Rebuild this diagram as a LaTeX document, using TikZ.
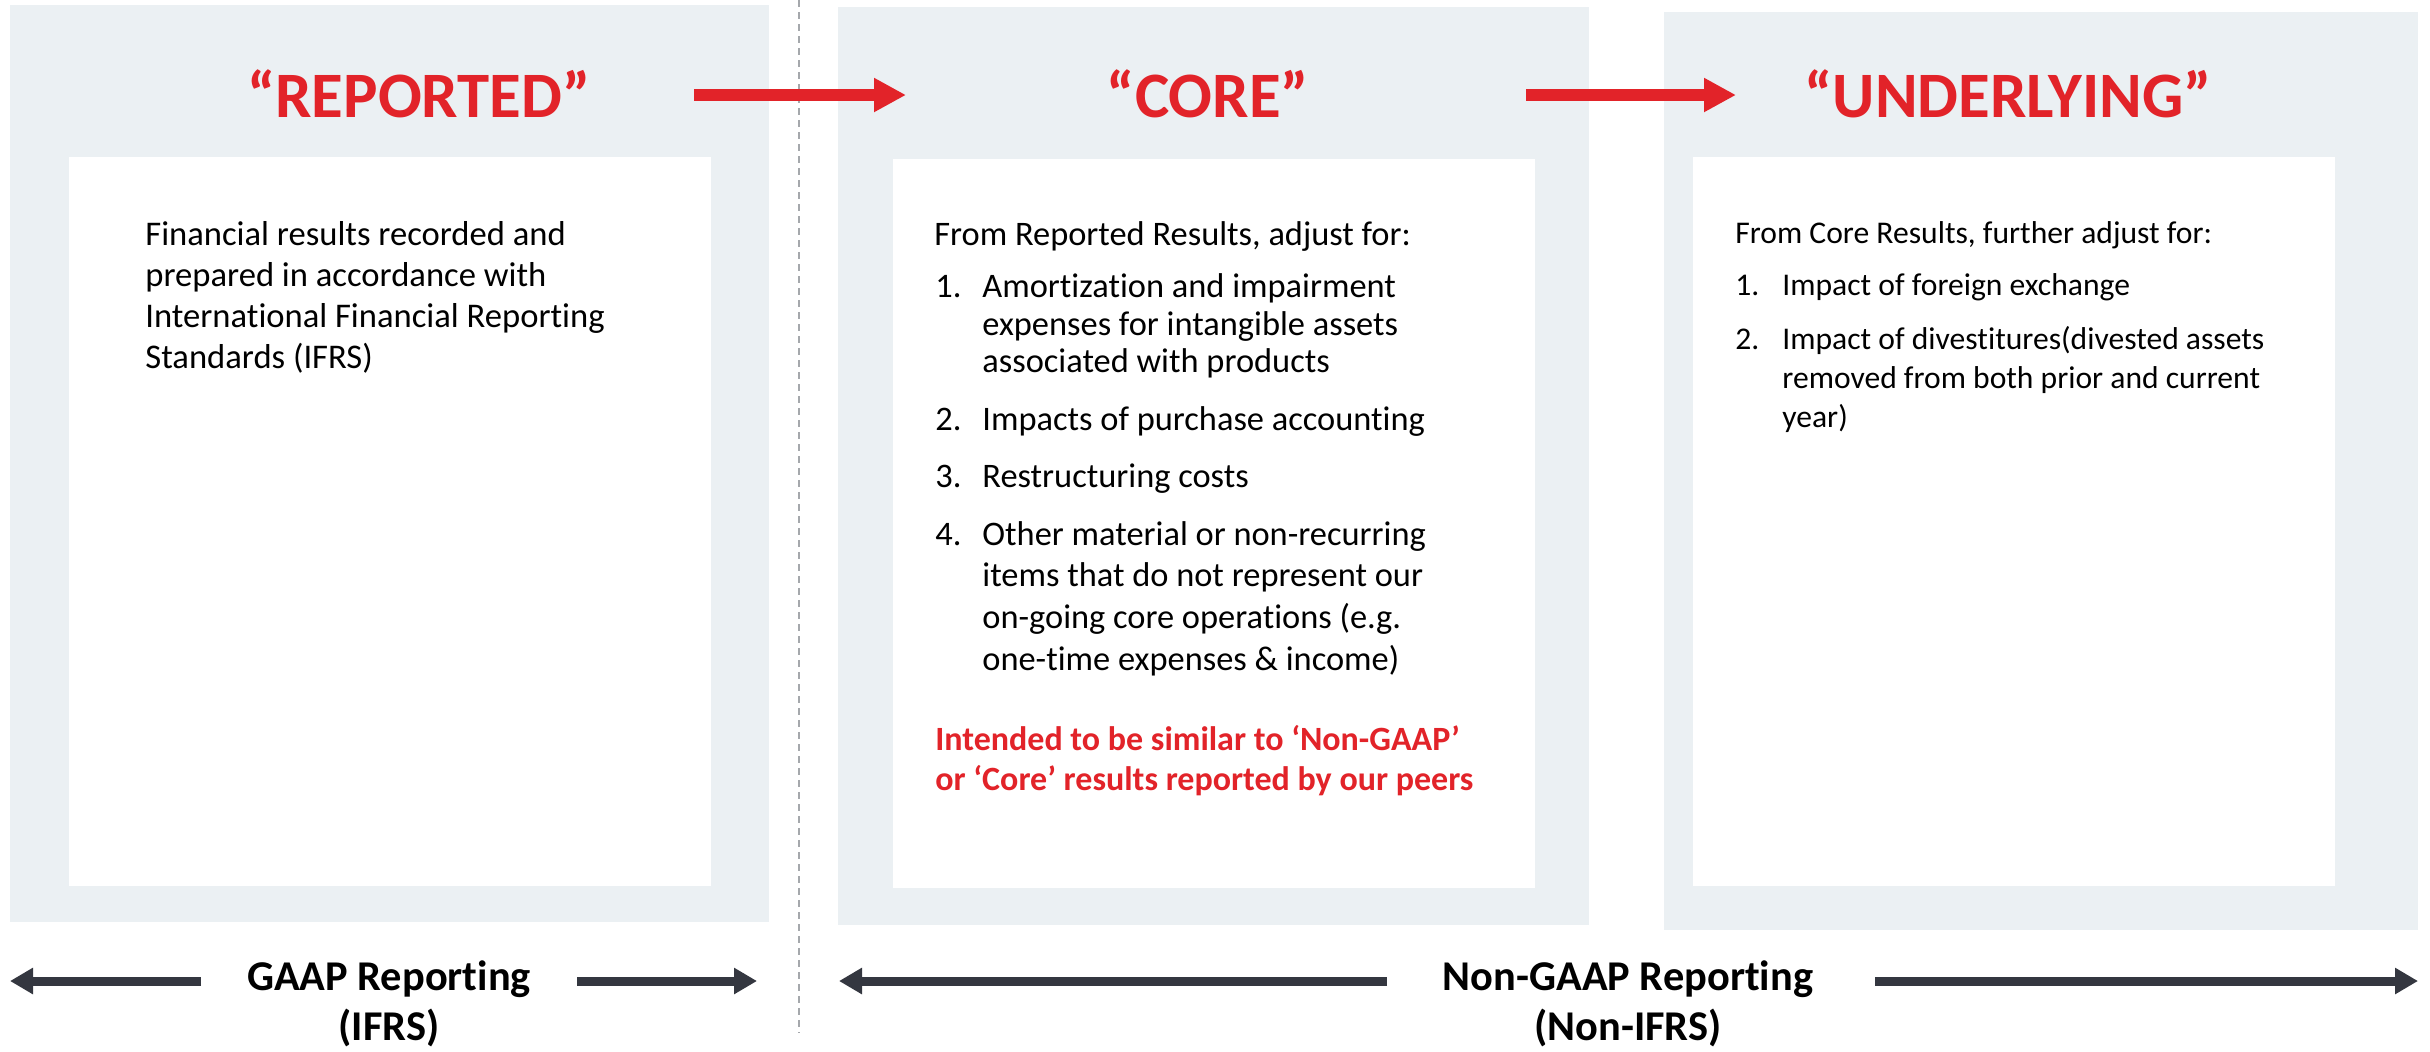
\documentclass[tikz,border=0pt]{standalone}
\usepackage{fontspec}
\setmainfont{Carlito}[Ligatures=NoCommon]
\usetikzlibrary{arrows.meta}

\definecolor{panel}{RGB}{235,240,243}
\definecolor{accent}{RGB}{226,35,41}
\definecolor{ink}{RGB}{52,55,64}
\definecolor{divider}{RGB}{165,168,172}

\begin{document}
\begin{tikzpicture}[x=0.5pt,y=-0.5pt,
  panelbox/.style={fill=panel},
  sheet/.style={fill=white},
  heading/.style={anchor=base,inner sep=0pt,text=accent,
    font=\fontsize{32.4}{38}\selectfont\bfseries},
  txtA/.style={anchor=base west,inner sep=0pt,font=\fontsize{17.3}{20.6}\selectfont},
  txtB/.style={anchor=base west,inner sep=0pt,font=\fontsize{17.2}{20}\selectfont},
  txtC/.style={anchor=base west,inner sep=0pt,font=\fontsize{15.8}{19}\selectfont},
  note/.style={anchor=base west,inner sep=0pt,text=accent,
    font=\fontsize{17}{20}\selectfont\bfseries},
  scope label/.style={anchor=base,inner sep=0pt,
    font=\fontsize{21.2}{25}\selectfont\bfseries},
  flow/.style={accent,line width=6pt,-{Triangle[length=16pt,width=16pt]}},
  span/.style={ink,line width=4.5pt,-{Triangle[length=11.5pt,width=12.5pt]}},
]
\useasboundingbox (0,0) rectangle (2430,1051);

% panels and inner sheets
\fill[panelbox] (10,5) rectangle (769,922);
\fill[sheet] (69,157) rectangle (711,886);
\fill[panelbox] (838,7) rectangle (1589,925);
\fill[sheet] (893,159) rectangle (1535,888);
\fill[panelbox] (1664,12) rectangle (2418,930);
\fill[sheet] (1693,157) rectangle (2335,886);

% divider between GAAP and non-GAAP
\coordinate (divtop) at (799,0);
\coordinate (divbot) at (799,1033);
\draw[divider,line width=1pt,dash pattern=on 3.5pt off 2.5pt] (divtop) -- (divbot);

% headings
\node[heading] (reported) at (419,117) {“REPORTED”};
\node[heading] (core) at (1208,117) {“CORE”};
\node[heading] (underlying) at (2008,117) {“UNDERLYING”};

% flow arrows
\coordinate (f1s) at (694,95);
\coordinate (f1e) at (906,95);
\coordinate (f2s) at (1526,95);
\coordinate (f2e) at (1736,95);
\draw[flow] (f1s) -- (f1e);
\draw[flow] (f2s) -- (f2e);

% reported text
\node[txtA] (r1) at (145,245) {Financial results recorded and};
\node[txtA] (r2) at (145,286) {prepared in accordance with};
\node[txtA] (r3) at (145,327) {International Financial Reporting};
\node[txtA] (r4) at (145,368) {Standards (IFRS)};

% core text
\node[txtB] (c0) at (934,245) {From Reported Results, adjust for:};
\node[txtB] (cn1) at (935,297) {1.};
\node[txtB] (c1a) at (982,297) {Amortization and impairment};
\node[txtB] (c1b) at (982,335) {expenses for intangible assets};
\node[txtB] (c1c) at (982,372) {associated with products};
\node[txtB] (cn2) at (935,430) {2.};
\node[txtB] (c2a) at (982,430) {Impacts of purchase accounting};
\node[txtB] (cn3) at (935,487) {3.};
\node[txtB] (c3a) at (982,487) {Restructuring costs};
\node[txtB] (cn4) at (935,545) {4.};
\node[txtB] (c4a) at (982,545) {Other material or non-recurring};
\node[txtB] (c4b) at (982,586) {items that do not represent our};
\node[txtB] (c4c) at (982,628) {on-going core operations (e.g.};
\node[txtB] (c4d) at (982,670) {one-time expenses \& income)};
\node[note] (n1) at (935,750) {Intended to be similar to ‘Non-GAAP’};
\node[note] (n2) at (935,790) {or ‘Core’ results reported by our peers};

% underlying text
\node[txtC] (u0) at (1735,243) {From Core Results, further adjust for:};
\node[txtC] (un1) at (1735,295) {1.};
\node[txtC] (u1a) at (1782,295) {Impact of foreign exchange};
\node[txtC] (un2) at (1735,349) {2.};
\node[txtC] (u2a) at (1782,349) {Impact of divestitures(divested assets};
\node[txtC] (u2b) at (1782,388) {removed from both prior and current};
\node[txtC] (u2c) at (1782,427) {year)};

% reporting scope labels
\node[scope label] (gaap) at (389,990) {GAAP Reporting};
\node[scope label] (gaapb) at (389,1040) {(IFRS)};
\node[scope label] (ngaap) at (1628,990) {Non-GAAP Reporting};
\node[scope label] (ngaapb) at (1628,1040) {(Non-IFRS)};

% scope arrows
\coordinate (g1s) at (201,981);
\coordinate (g1e) at (10,981);
\coordinate (g2s) at (577,981);
\coordinate (g2e) at (757,981);
\coordinate (n1s) at (1387,981);
\coordinate (n1e) at (839,981);
\coordinate (n2s) at (1875,981);
\coordinate (n2e) at (2418,981);
\draw[span] (g1s) -- (g1e);
\draw[span] (g2s) -- (g2e);
\draw[span] (n1s) -- (n1e);
\draw[span] (n2s) -- (n2e);
\end{tikzpicture}
\end{document}
